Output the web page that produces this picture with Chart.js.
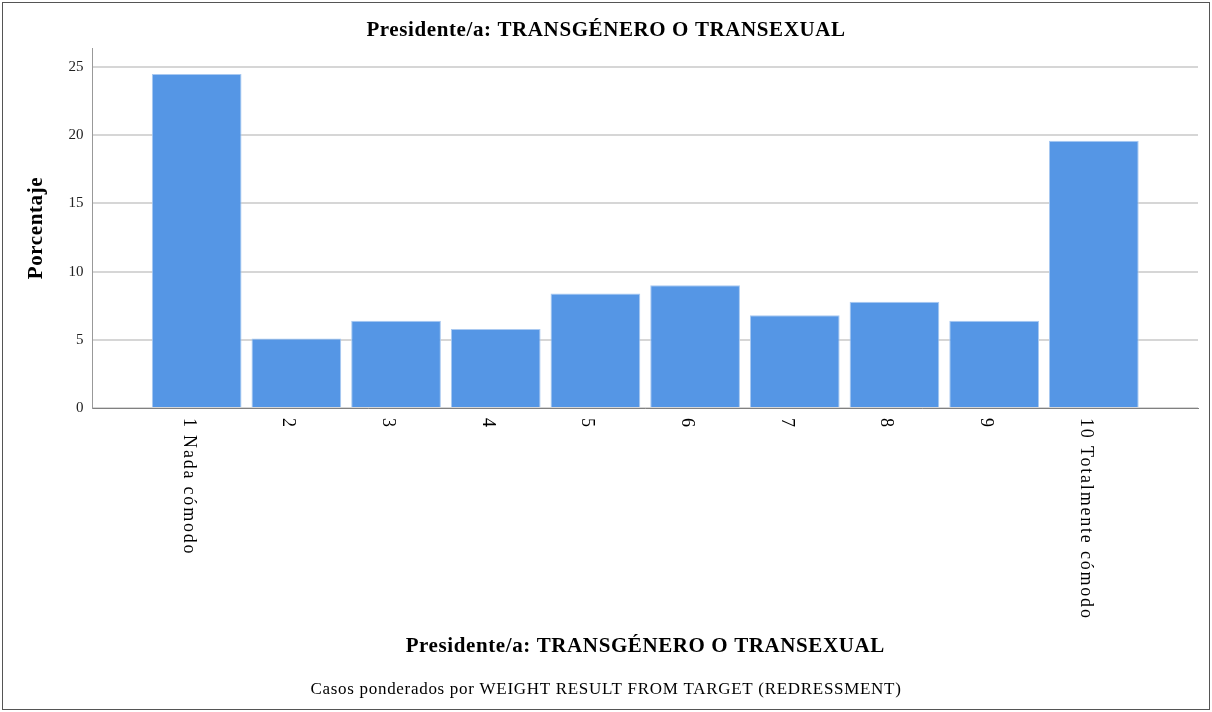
<!DOCTYPE html>
<html>
<head>
<meta charset="utf-8">
<title>Presidente/a: TRANSGÉNERO O TRANSEXUAL</title>
<script src="https://cdn.jsdelivr.net/npm/chart.js@4/dist/chart.umd.min.js"></script>
<style>
  body { margin: 0; background: #fff; }
  #wrap { width: 1212px; height: 712px; }
</style>
</head>
<body>
<div id="wrap"><canvas id="myChart" width="1212" height="712"></canvas></div>
<script>
// data
var categories = ['1 Nada cómodo', '2', '3', '4', '5', '6', '7', '8', '9', '10 Totalmente cómodo'];
var porcentaje = [24.5, 5.1, 6.4, 5.8, 8.4, 9.0, 6.8, 7.8, 6.4, 19.6];
var yTicks = [0, 5, 10, 15, 20, 25];

var chartTitle = 'Presidente/a: TRANSGÉNERO O TRANSEXUAL';
var xTitle = 'Presidente/a: TRANSGÉNERO O TRANSEXUAL';
var yTitle = 'Porcentaje';
var footNote = 'Casos ponderados por WEIGHT RESULT FROM TARGET (REDRESSMENT)';

var serif = '"Liberation Serif", "DejaVu Serif", serif';

// titles, frame and the rotated category labels
var spssText = {
  id: 'spssText',
  beforeDraw: function(chart) {
    var ctx = chart.ctx;
    ctx.save();
    ctx.fillStyle = '#fff';
    ctx.fillRect(0, 0, chart.width, chart.height);
    ctx.strokeStyle = '#555';
    ctx.lineWidth = 1;
    ctx.strokeRect(2.5, 2.5, chart.width - 5, chart.height - 5);
    ctx.restore();
  },
  afterDraw: function(chart) {
    var ctx = chart.ctx;
    var x = chart.scales.x, area = chart.chartArea;
    ctx.save();
    ctx.fillStyle = '#000';
    ctx.textAlign = 'center';
    ctx.textBaseline = 'middle';

    ctx.font = 'bold 21px ' + serif;
    ctx.letterSpacing = '0.6px';
    ctx.fillText(chartTitle, chart.width / 2, 31);
    ctx.fillText(xTitle, (area.left + area.right) / 2, 647);

    ctx.save();
    ctx.translate(37, 228);
    ctx.rotate(-Math.PI / 2);
    ctx.fillText(yTitle, 0, 0);
    ctx.restore();

    ctx.font = '17px ' + serif;
    ctx.letterSpacing = '0.7px';
    ctx.fillText(footNote, chart.width / 2, 690);

    // category labels, reading top to bottom
    ctx.font = '18px ' + serif;
    ctx.letterSpacing = '1.8px';
    ctx.textAlign = 'left';
    ctx.textBaseline = 'alphabetic';
    categories.forEach(function(lab, i) {
      ctx.save();
      ctx.translate(x.getPixelForValue(i + 1) - 13, area.bottom + 10);
      ctx.rotate(Math.PI / 2);
      ctx.fillText(lab, 0, 0);
      ctx.restore();
    });
    ctx.restore();
  }
};

var ctx = document.getElementById('myChart').getContext('2d');
var chart = new Chart(ctx, {
  type: 'bar',
  data: {
    datasets: [{
      label: 'Porcentaje',
      data: porcentaje.map(function(v, i) { return { x: i + 1, y: v }; }),
      backgroundColor: '#5596e5',
      borderColor: '#a9c9f1',
      borderWidth: 1,
      barPercentage: 0.9,
      categoryPercentage: 1
    }]
  },
  options: {
    responsive: false,
    animation: false,
    layout: { padding: { top: 48, right: 14, bottom: 0, left: 0 } },
    plugins: {
      legend: { display: false },
      tooltip: { enabled: false }
    },
    scales: {
      x: {
        type: 'linear',
        offset: false,
        min: -0.045,
        max: 11.045,
        grid: { display: false, drawTicks: false },
        border: { color: '#808080', width: 1 },
        ticks: { display: false },
        afterFit: function(s) { s.height = 304; }
      },
      y: {
        min: 0,
        max: 26.4,
        afterBuildTicks: function(s) {
          s.ticks = yTicks.map(function(v) { return { value: v }; });
        },
        grid: { color: '#d6d6d6', lineWidth: 2, drawTicks: false },
        border: { color: '#999', width: 1 },
        ticks: {
          padding: 9,
          color: '#222',
          font: { family: serif, size: 15 }
        },
        afterFit: function(s) { s.width = 92.5; }
      }
    }
  },
  plugins: [spssText]
});
</script>
</body>
</html>
